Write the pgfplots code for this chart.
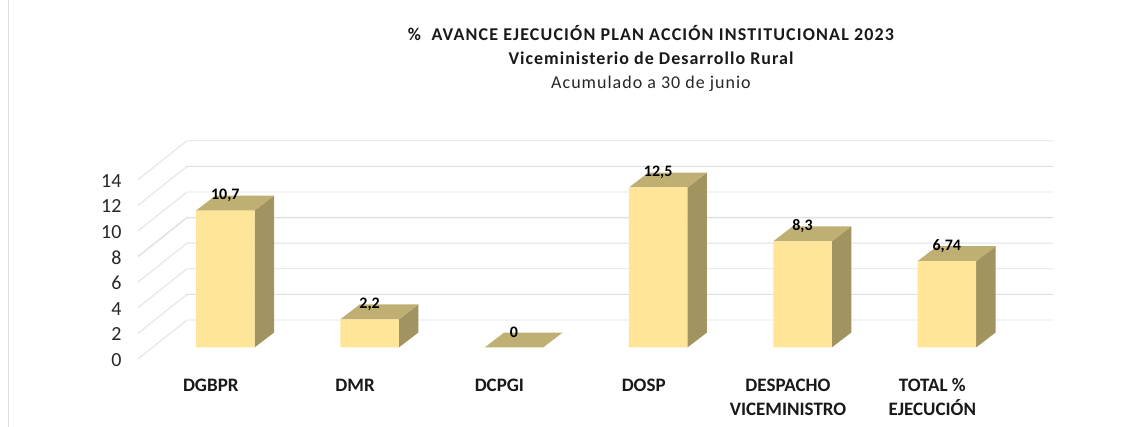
\documentclass[border=0pt]{standalone}
\usepackage{fontspec}
\setmainfont{Carlito}
\newfontfamily\titlefont[LetterSpace=5.6]{Carlito}
\newfontfamily\titlefontwide[LetterSpace=6.4]{Carlito}
\usepackage{pgfplots}
\usepackage{pgfplotstable}
\pgfplotsset{compat=1.18}
\definecolor{front}{HTML}{FEE597}
\definecolor{topf}{HTML}{C0AF72}
\definecolor{sidef}{HTML}{A29460}
\definecolor{gridc}{HTML}{E0E0E0}
\pgfplotstableread{
idx val lab
0 10.7 10,7
1 2.2 2,2
2 0 0
3 12.5 12,5
4 8.3 8,3
5 6.74 6,74
}\datatable
\begin{document}
\begin{tikzpicture}[x=1pt,y=1pt]
\path[use as bounding box] (0,-79.5) rectangle (1146,347.5);
\draw[gridc,line width=0.9pt] (8,-79.5) -- (8,347.5);
\node[font=\fontsize{18}{18}\titlefontwide\bfseries,text=black!90] at (651,314.5) {\%\ \ AVANCE EJECUCIÓN PLAN ACCIÓN INSTITUCIONAL 2023};
\node[font=\fontsize{18}{18}\titlefont\bfseries,text=black!90] at (651,289.5) {Viceministerio de Desarrollo Rural};
\node[font=\fontsize{18}{18}\titlefont,text=black!85] at (651,263.5) {Acumulado a 30 de junio};
% wall axis: x in pixels, y in value units
\begin{axis}[at={(138pt,-11.5pt)},anchor=south west,scale only axis,width=1008pt,height=359pt,
  xmin=138,xmax=1146,ymin=0,ymax=28.047,clip=false,
  axis line style={draw=none},xtick=\empty,
  ytick={0,2,...,14},ytick style={draw=none},
  tick label style={font=\fontsize{20}{20}\selectfont,text=black!85},
  yticklabel style={xshift=-13pt,yshift=-1pt},
  /pgf/number format/assume math mode=true]
\addplot[gridc,line width=0.9pt] coordinates {(138,0) (187,3.05) (1053,3.05)};
\addplot[gridc,line width=0.9pt] coordinates {(138,2) (187,5.05) (1053,5.05)};
\addplot[gridc,line width=0.9pt] coordinates {(138,4) (187,7.05) (1053,7.05)};
\addplot[gridc,line width=0.9pt] coordinates {(138,6) (187,9.05) (1053,9.05)};
\addplot[gridc,line width=1.4pt] coordinates {(138,8) (187,11.05) (1053,11.05)};
\addplot[gridc,line width=0.9pt] coordinates {(138,10) (187,13.05) (1053,13.05)};
\addplot[gridc,line width=0.9pt] coordinates {(138,12) (187,15.05) (1053,15.05)};
\addplot[gridc,line width=0.9pt] coordinates {(138,14) (187,17.05) (1053,17.05)};
\end{axis}
% bars: x in category index, y in values
\begin{axis}[at={(0pt,0pt)},anchor=south west,scale only axis,width=1146pt,height=347.5pt,
  xmin=-1.5613,xmax=6.3803,ymin=0,ymax=27.148,clip=false,
  axis line style={draw=none},ytick=\empty,
  xtick={0,1,2,3,4,5},x tick style={draw=none},
  xticklabels={\strut DGBPR,\strut DMR,\strut DCPGI,\strut DOSP,{\strut DESPACHO\\\strut VICEMINISTRO},{\strut TOTAL \%\\\strut EJECUCIÓN}},
  xticklabel style={font=\fontsize{19}{24}\selectfont\bfseries,align=center,xshift=-14.5pt,yshift=-24pt,anchor=north,text=black!90}]
% side faces
\addplot[fill=sidef,draw=none] coordinates {(0.2027,0) (0.3378,1.17) (0.3378,11.87) (0.2027,10.7)} -- cycle;
\addplot[fill=sidef,draw=none] coordinates {(1.2027,0) (1.3378,1.17) (1.3378,3.37) (1.2027,2.2)} -- cycle;
\addplot[fill=sidef,draw=none] coordinates {(3.2027,0) (3.3378,1.17) (3.3378,13.67) (3.2027,12.5)} -- cycle;
\addplot[fill=sidef,draw=none] coordinates {(4.2027,0) (4.3378,1.17) (4.3378,9.47) (4.2027,8.3)} -- cycle;
\addplot[fill=sidef,draw=none] coordinates {(5.2027,0) (5.3378,1.17) (5.3378,7.91) (5.2027,6.74)} -- cycle;
% top faces
\addplot[fill=topf,draw=none] coordinates {(-0.2027,10.7) (-0.0676,11.87) (0.3378,11.87) (0.2027,10.7)} -- cycle;
\addplot[fill=topf,draw=none] coordinates {(0.7973,2.2) (0.9324,3.37) (1.3378,3.37) (1.2027,2.2)} -- cycle;
\addplot[fill=topf,draw=none] coordinates {(1.7973,0) (1.9324,1.17) (2.3378,1.17) (2.2027,0)} -- cycle;
\addplot[fill=topf,draw=none] coordinates {(2.7973,12.5) (2.9324,13.67) (3.3378,13.67) (3.2027,12.5)} -- cycle;
\addplot[fill=topf,draw=none] coordinates {(3.7973,8.3) (3.9324,9.47) (4.3378,9.47) (4.2027,8.3)} -- cycle;
\addplot[fill=topf,draw=none] coordinates {(4.7973,6.74) (4.9324,7.91) (5.3378,7.91) (5.2027,6.74)} -- cycle;
% front faces and value labels
\addplot[ybar,bar width=58.5pt,fill=front,draw=none,
  point meta=explicit symbolic,nodes near coords,
  nodes near coords style={font=\fontsize{16}{16}\selectfont\bfseries,text=black,anchor=center,yshift=15pt}]
  table[x=idx,y=val,meta=lab]{\datatable};
\end{axis}
\end{tikzpicture}
\end{document}
